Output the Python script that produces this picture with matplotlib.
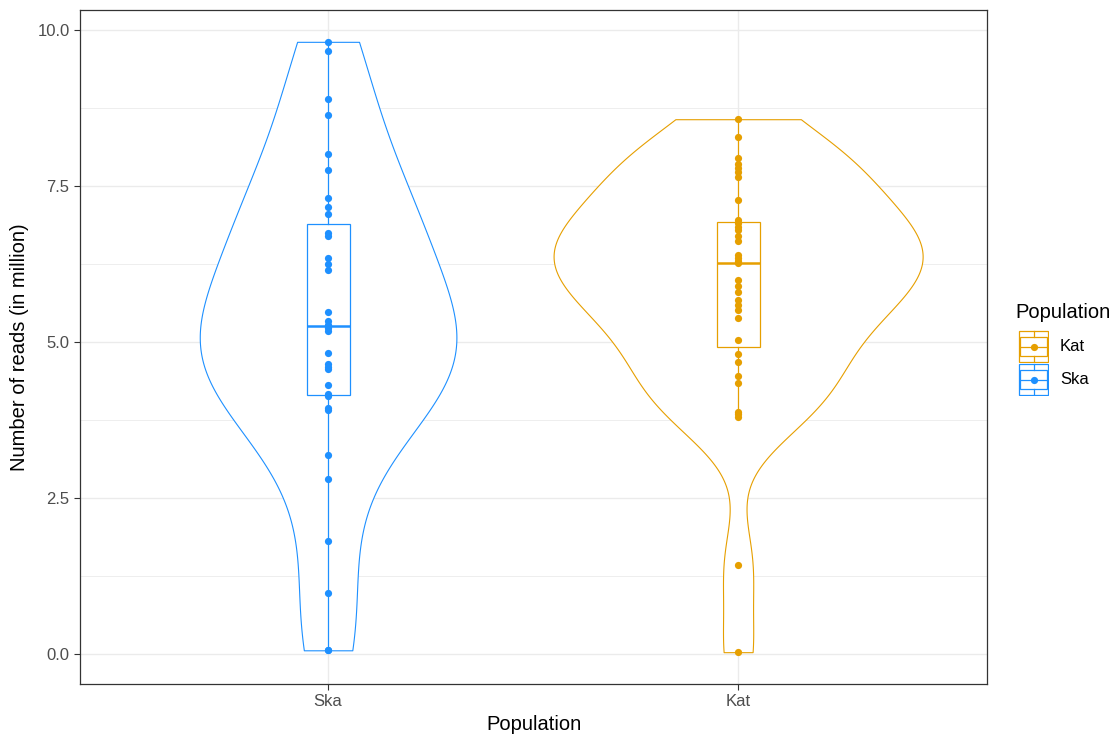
import numpy as np
import matplotlib
matplotlib.use("Agg")
import matplotlib.pyplot as plt
from matplotlib.patches import Rectangle
from matplotlib.ticker import MultipleLocator

plt.rcParams['font.family'] = ['Liberation Sans', 'DejaVu Sans']

# number of reads (in million) per sample
populations = ["Ska", "Kat"]
ska_reads = [0.06, 0.06, 0.98, 1.81, 2.80, 3.19, 3.91, 3.95, 4.14, 4.16,
             4.31, 4.56, 4.60, 4.64, 4.82, 5.18, 5.22, 5.25, 5.28, 5.33,
             5.48, 6.15, 6.25, 6.35, 6.70, 6.74, 7.05, 7.17, 7.31, 7.76,
             8.01, 8.63, 8.89, 9.67, 9.81]
kat_reads = [0.03, 1.43, 3.80, 3.84, 3.88, 4.35, 4.45, 4.68, 4.80, 5.04,
             5.38, 5.51, 5.59, 5.67, 5.80, 5.89, 5.99, 6.26, 6.30, 6.35,
             6.40, 6.62, 6.70, 6.79, 6.85, 6.90, 6.96, 7.28, 7.65, 7.72,
             7.79, 7.86, 7.95, 8.29, 8.57]
pop_colors = ["#1E90FF", "#E69F00"]
bw_adjust = [1.2, 1.0]
y_ticks = [0.0, 2.5, 5.0, 7.5, 10.0]

data = [np.array(ska_reads), np.array(kat_reads)]
positions = [1, 2]

W, H = 1117, 738


def fx(px):
    return px / W


def fy(py):
    return 1 - py / H


def nrd0(x):
    # R's default bandwidth
    sd = x.std(ddof=1)
    q75, q25 = np.percentile(x, [75, 25])
    return 0.9 * min(sd, (q75 - q25) / 1.34) * len(x) ** -0.2


def kde_max(x, bw):
    grid = np.linspace(x.min(), x.max(), 512)
    dens = np.exp(-0.5 * ((grid[:, None] - x[None, :]) / bw) ** 2).sum(1)
    dens /= len(x) * bw * np.sqrt(2 * np.pi)
    return dens.max()


bws = [nrd0(d) * a for d, a in zip(data, bw_adjust)]
# scale="area": all violins share one density scale
maxd = np.array([kde_max(d, bw) for d, bw in zip(data, bws)])
widths = 0.9 * maxd / maxd.max()

fig = plt.figure(figsize=(W / 100, H / 100), dpi=100)
ax = fig.add_axes([fx(80), fy(684), fx(987) - fx(80), fy(10) - fy(684)])

for d, p, w, bw, c in zip(data, positions, widths, bws, pop_colors):
    vp = ax.violinplot([d], positions=[p], widths=w, points=512,
                       showextrema=False,
                       bw_method=bw / d.std(ddof=1))
    body = vp['bodies'][0]
    body.set_facecolor('white')
    body.set_edgecolor(c)
    body.set_alpha(1)
    body.set_linewidth(0.8)
    body.set_zorder(2)

bp = ax.boxplot(data, positions=positions, widths=0.105, whis=1.5,
                showcaps=False, showfliers=False, patch_artist=True,
                zorder=3)
for i, c in enumerate(pop_colors):
    bp['boxes'][i].set(facecolor='white', edgecolor=c, linewidth=0.9)
    bp['medians'][i].set(color=c, linewidth=1.8)
    for w in bp['whiskers'][2 * i:2 * i + 2]:
        w.set(color=c, linewidth=0.9)

for p, d, c in zip(positions, data, pop_colors):
    ax.plot(np.full(len(d), p), d, 'o', ms=5.2, color=c, mec='none', zorder=4)

ax.set_xlim(0.395, 2.607)
ax.set_ylim(-0.48, 10.32)
ax.set_xticks(positions)
ax.set_xticklabels(populations)
ax.set_yticks(y_ticks)
ax.set_yticklabels([f"{t:.1f}" for t in y_ticks])
ax.yaxis.set_minor_locator(MultipleLocator(1.25))
ax.tick_params(axis='both', which='major', colors='#333333', labelcolor='#4D4D4D',
               labelsize=12, length=4, width=0.8)
ax.tick_params(axis='y', which='minor', length=0)
ax.grid(True, which='major', color='#EBEBEB', linewidth=1.0)
ax.grid(True, which='minor', axis='y', color='#EBEBEB', linewidth=0.6)
ax.set_axisbelow(True)
for s in ax.spines.values():
    s.set_color('#333333')
    s.set_linewidth(0.9)

ax.set_xlabel("Population", fontsize=14.5, labelpad=4)
ax.set_ylabel("Number of reads (in million)", fontsize=14.5, labelpad=6)

# legend drawn by hand to get the ggplot boxplot keys
fig.text(fx(1015), fy(312), "Population", fontsize=14.5, va='center', ha='left')
legend_rows = [("Kat", pop_colors[1], 330), ("Ska", pop_colors[0], 363)]
for label, c, top in legend_rows:
    kax = fig.add_axes([fx(1018), fy(top + 33), fx(1049) - fx(1018), fy(top) - fy(top + 33)])
    kax.set_xlim(0, 1)
    kax.set_ylim(0, 1)
    kax.axis('off')
    kax.add_patch(Rectangle((0.02, 0.02), 0.96, 0.96, fill=False, edgecolor=c, lw=0.9))
    kax.add_patch(Rectangle((0.08, 0.22), 0.84, 0.56, facecolor='white', edgecolor=c, lw=0.9))
    kax.plot([0.08, 0.92], [0.5, 0.5], color=c, lw=0.9)
    kax.plot([0.5, 0.5], [0.02, 0.22], color=c, lw=0.9)
    kax.plot([0.5, 0.5], [0.78, 0.98], color=c, lw=0.9)
    kax.plot([0.5], [0.5], 'o', ms=5.2, color=c, mec='none')
    fig.text(fx(1060), fy(top + 17), label, fontsize=12, va='center', ha='left')

fig.savefig("out.png", dpi=100)
